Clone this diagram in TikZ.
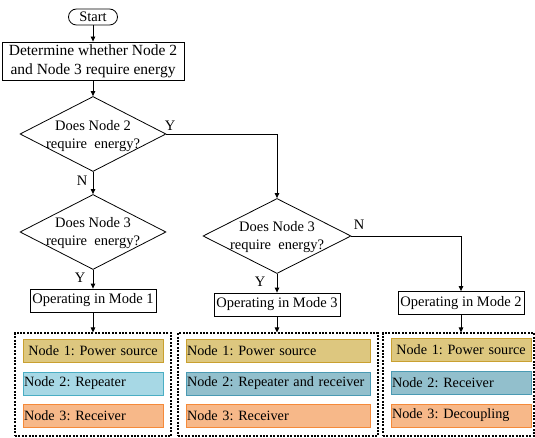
\documentclass[tikz,border=0pt]{standalone}
\usepackage{fontspec}
\setmainfont{Liberation Serif}
\usetikzlibrary{shapes.geometric,arrows.meta}
\frenchspacing

\definecolor{srcfill}{HTML}{DDC77F}
\definecolor{srcline}{HTML}{C9A030}
\definecolor{repfill}{HTML}{A7D8E5}
\definecolor{repline}{HTML}{4AAEC4}
\definecolor{rcvfill}{HTML}{92BFCC}
\definecolor{rcvline}{HTML}{4A9AB3}
\definecolor{ofill}{HTML}{F7B889}
\definecolor{oline}{HTML}{F58A3A}

\tikzset{
  base/.style={font=\fontsize{14.5}{18.5}\selectfont, inner sep=1pt},
  term/.style={base, draw, rounded corners=8pt, minimum width=49pt, minimum height=16pt},
  proc/.style={base, draw, minimum width=126pt, minimum height=23pt},
  dec/.style={draw, diamond, inner sep=0pt, minimum width=146pt, minimum height=75pt},
  group/.style={draw, dash pattern=on 2pt off 1.4pt, line width=1.1pt, minimum height=103pt},
  cell/.style={draw, font=\fontsize{14.2}{17}\selectfont, line width=0.9pt, minimum height=23pt, text width=#1, align=left, inner xsep=1pt, inner ysep=1pt},
}

\begin{document}
\begin{tikzpicture}[x=1pt,y=-1pt,line width=0.8pt,>={Triangle[length=5pt,width=4.5pt]}]
\useasboundingbox (0,0) rectangle (535,438);

% top of the chart
\node[term] (start) at (93,17) {Start};
\node[proc, align=center, minimum width=182pt, minimum height=38pt, font=\fontsize{15.5}{19}\selectfont] (det) at (93,61) {Determine whether Node 2\\and Node 3 require energy};

% decisions
\node[dec] (ask2) at (93,134) {};
\node[base, align=center] (ask2t) at (93,136) {Does Node 2\\require~ energy?};
\node[dec] (ask3) at (93,232) {};
\node[base, align=center] (ask3t) at (93,233) {Does Node 3\\require~ energy?};
\node[dec, minimum width=148pt] (ask3b) at (277,236) {};
\node[base, align=center] (ask3bt) at (277,237) {Does Node 3\\require~ energy?};

% modes
\node[proc] (mode1) at (93,300.5) {Operating in Mode 1};
\node[proc] (mode3) at (277,304.5) {Operating in Mode 3};
\node[proc] (mode2) at (461,303) {Operating in Mode 2};

% dashed groups
\node[group, minimum width=156pt] (grp1) at (93,384.5) {};
\node[group, minimum width=200pt] (grp3) at (278,384.5) {};
\node[group, minimum width=151pt] (grp2) at (458.5,384.5) {};

% Mode 1 roles
\node[cell=138pt, fill=srcfill, draw=srcline, align=center] (m1a) at (93,351) {Node 1: Power source};
\node[cell=138pt, fill=repfill, draw=repline] (m1b) at (93,383.5) {Node 2: Repeater};
\node[cell=138pt, fill=ofill, draw=oline] (m1c) at (93,416) {Node 3: Receiver};

% Mode 3 roles
\node[cell=182pt, fill=srcfill, draw=srcline] (m3a) at (278,351) {Node 1: Power source};
\node[cell=182pt, fill=rcvfill, draw=rcvline] (m3b) at (278,383.5) {Node 2: Repeater and receiver};
\node[cell=182pt, fill=ofill, draw=oline] (m3c) at (278,416) {Node 3: Receiver};

% Mode 2 roles
\node[cell=138pt, fill=srcfill, draw=srcline, align=center] (m2a) at (461,350) {Node 1: Power source};
\node[cell=138pt, fill=rcvfill, draw=rcvline] (m2b) at (461,382.5) {Node 2: Receiver};
\node[cell=138pt, fill=ofill, draw=oline] (m2c) at (461,415.5) {Node 3: Decoupling};

% Y / N labels
\node[base] (lab1) at (170,126) {Y};
\node[base] (lab2) at (82,181) {N};
\node[base] (lab3) at (80,278) {Y};
\node[base] (lab4) at (260,282) {Y};
\node[base] (lab5) at (359,225) {N};

% arrows
\draw[->] (start) -- (det);
\draw[->] (det) -- (ask2);
\draw[->] (ask2.east) -| (ask3b.north);
\draw[->] (ask2) -- (ask3);
\draw[->] (ask3) -- (mode1);
\draw[->] (ask3b) -- (mode3);
\draw[->] (ask3b.east) -| (mode2.north);
\draw[->] (mode1) -- (mode1 |- grp1.north);
\draw[->] (mode3) -- (mode3 |- grp3.north);
\draw[->] (mode2) -- (mode2 |- grp2.north);
\end{tikzpicture}
\end{document}
